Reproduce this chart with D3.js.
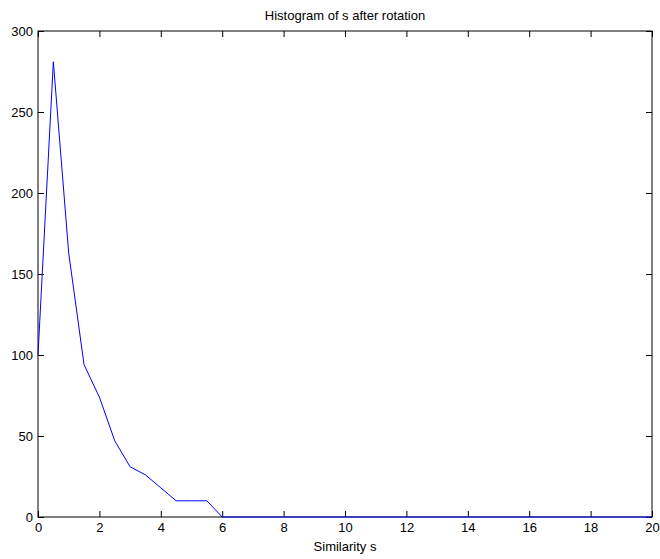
<!DOCTYPE html>
<html>
<head>
<meta charset="utf-8">
<script src="https://cdn.jsdelivr.net/npm/d3@7"></script>
<style>
  body { margin: 0; background: white; }
  svg text { font-family: "Liberation Sans", Arial, sans-serif; fill: #000; }
</style>
</head>
<body>
<svg width="660" height="559"></svg>
<script>
// histogram bin centres (step 0.5) and counts
const binCentres = d3.range(0, 20.001, 0.5);
const counts = [100, 281, 163, 94, 74, 47, 31, 26, 18, 10, 10, 10, 0,
  0, 0, 0, 0, 0, 0, 0, 0, 0, 0, 0, 0, 0, 0, 0, 0, 0, 0, 0, 0, 0, 0, 0, 0, 0, 0, 0, 0];
const xTicks = [0, 2, 4, 6, 8, 10, 12, 14, 16, 18, 20];
const yTicks = [0, 50, 100, 150, 200, 250, 300];

const svg = d3.select('svg');
const margin = { top: 31, left: 38, right: 8, bottom: 42 };
const width = 660, height = 559;
const innerWidth = width - margin.left - margin.right;
const innerHeight = height - margin.top - margin.bottom;

const data = binCentres.map((x, i) => ({ x: x, y: counts[i] }));

const xScale = d3.scaleLinear().domain([0, 20]).range([0, innerWidth]);
const yScale = d3.scaleLinear().domain([0, 300]).range([innerHeight, 0]);

const g = svg.append('g')
  .attr('transform', `translate(${margin.left}, ${margin.top})`);

const axisStyle = sel => {
  sel.selectAll('.domain').remove();
  sel.selectAll('line').attr('stroke', '#000');
  sel.selectAll('text').attr('font-size', 13).attr('font-family', '"Liberation Sans", Arial, sans-serif');
};

// bottom
g.append('g')
  .attr('transform', `translate(0, ${innerHeight})`)
  .call(d3.axisBottom(xScale).tickValues(xTicks).tickSize(-6).tickPadding(6).tickFormat(d3.format('d')))
  .call(axisStyle);
// top (ticks only)
g.append('g')
  .call(d3.axisTop(xScale).tickValues(xTicks).tickSize(-6).tickFormat(''))
  .call(axisStyle)
  .selectAll('text').remove();
// left
g.append('g')
  .call(d3.axisLeft(yScale).tickValues(yTicks).tickSize(-6).tickPadding(5).tickFormat(d3.format('d')))
  .call(axisStyle);
// right (ticks only)
g.append('g')
  .attr('transform', `translate(${innerWidth}, 0)`)
  .call(d3.axisRight(yScale).tickValues(yTicks).tickSize(-6).tickFormat(''))
  .call(axisStyle)
  .selectAll('text').remove();

// box
g.append('rect')
  .attr('width', innerWidth)
  .attr('height', innerHeight)
  .attr('fill', 'none')
  .attr('stroke', '#000')
  .attr('stroke-width', 1);

const line = d3.line()
  .x(d => xScale(d.x))
  .y(d => yScale(d.y));

g.append('path')
  .datum(data)
  .attr('d', line)
  .attr('fill', 'none')
  .attr('stroke', '#0000ff')
  .attr('stroke-width', 1);

// title
g.append('text')
  .attr('x', innerWidth / 2)
  .attr('y', -11)
  .attr('text-anchor', 'middle')
  .attr('font-size', 13)
  .text('Histogram of s after rotation');

// x label
g.append('text')
  .attr('x', innerWidth / 2)
  .attr('y', innerHeight + 34)
  .attr('text-anchor', 'middle')
  .attr('font-size', 13)
  .text('Similarity s');
</script>
</body>
</html>
